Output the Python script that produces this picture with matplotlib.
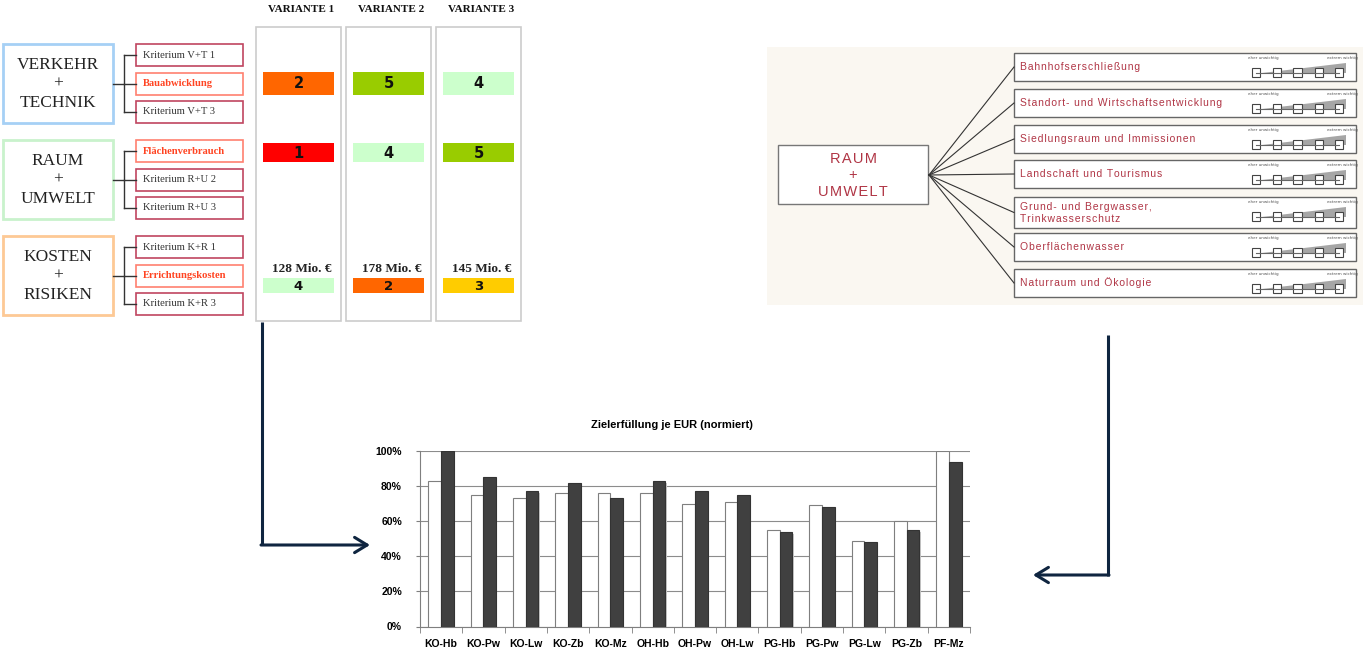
import numpy as np
import matplotlib
matplotlib.use("Agg")
from matplotlib import pyplot as plt
from matplotlib.patches import Rectangle, Polygon

# ---- data ----
groups = [["VERKEHR", "+", "TECHNIK"], ["RAUM", "+", "UMWELT"], ["KOSTEN", "+", "RISIKEN"]]
group_edges = ["#a6d0f5", "#c9f2cc", "#fdc995"]
criteria = [["Kriterium V+T 1", "Bauabwicklung", "Kriterium V+T 3"],
            ["Flächenverbrauch", "Kriterium R+U 2", "Kriterium R+U 3"],
            ["Kriterium K+R 1", "Errichtungskosten", "Kriterium K+R 3"]]
highlighted = ["Bauabwicklung", "Flächenverbrauch", "Errichtungskosten"]

variants = ["VARIANTE 1", "VARIANTE 2", "VARIANTE 3"]
scores_bau = [2, 5, 4]
scores_flaeche = [1, 4, 5]
scores_kosten = [4, 2, 3]
costs = ["128 Mio. €", "178 Mio. €", "145 Mio. €"]
score_colors = {1: "#ff0000", 2: "#ff6600", 3: "#ffcc00", 4: "#ccffcc", 5: "#99cc00"}

ru_title = ["RAUM", "+", "UMWELT"]
ru_criteria = ["Bahnhofserschließung", "Standort- und Wirtschaftsentwicklung",
               "Siedlungsraum und Immissionen", "Landschaft und Tourismus",
               "Grund- und Bergwasser,\nTrinkwasserschutz", "Oberflächenwasser",
               "Naturraum und Ökologie"]

categories = ["KO-Hb", "KO-Pw", "KO-Lw", "KO-Zb", "KO-Mz", "OH-Hb", "OH-Pw",
              "OH-Lw", "PG-Hb", "PG-Pw", "PG-Lw", "PG-Zb", "PF-Mz"]
series_a = [83, 75, 73, 76, 76, 76, 70, 71, 55, 69, 49, 60, 100]
series_b = [100, 85, 77, 82, 73, 83, 77, 75, 54, 68, 48, 55, 94]

serif = ["Liberation Serif", "DejaVu Serif"]
sans = ["Liberation Sans", "DejaVu Sans"]
narrow = ["Liberation Sans Narrow", "Liberation Sans", "DejaVu Sans"]
navy = "#0f2540"
ru_red = "#b03545"


def spaced(s):
    # letter-spaced text like the original graphic
    return "\n".join("\u200a".join(line) for line in s.split("\n"))


fig = plt.figure(figsize=(13.64, 6.52), dpi=100)
ax = fig.add_axes([0, 0, 1, 1])
ax.set_xlim(0, 1364)
ax.set_ylim(652, 0)
ax.axis("off")

# ---- left: criteria tree ----
group_tops = [44, 140, 236]
crit_offsets = [0, 29, 57]
for g, top in enumerate(group_tops):
    ax.add_patch(Rectangle((3, top), 110, 79, fill=False, ec=group_edges[g], lw=2))
    for k, word in enumerate(groups[g]):
        ax.text(58, top + 21 + k * 19, word, ha="center", va="center",
                fontsize=12.5, family=serif, color="#222222")
    mids = []
    for k, name in enumerate(criteria[g]):
        y0 = top + crit_offsets[k]
        hi = name in highlighted
        ax.add_patch(Rectangle((136, y0), 107, 22, fc="white",
                               ec="#ff8070" if hi else "#c04560", lw=1.2))
        ax.text(143, y0 + 11, name, ha="left", va="center", fontsize=7.6,
                family=serif, color="#ff4422" if hi else "#333333",
                fontweight="bold" if hi else "normal")
        mids.append(y0 + 11)
    ax.plot([113, 124], [mids[1], mids[1]], color="#333333", lw=1)
    ax.plot([124, 124], [mids[0], mids[2]], color="#333333", lw=1)
    for m in mids:
        ax.plot([124, 136], [m, m], color="#333333", lw=1)

# ---- variant columns ----
col_x = [256, 346, 436]
col_w = 85
for i, name in enumerate(variants):
    x0 = col_x[i]
    ax.add_patch(Rectangle((x0, 27), col_w, 294, fill=False, ec="#cccccc", lw=1.2))
    cx = x0 + col_w / 2
    ax.text(cx + 3, 10, name, ha="center", va="center", fontsize=8,
            fontweight="bold", family=serif, color="#111111")
    for val, y0, h in [(scores_bau[i], 72, 23), (scores_flaeche[i], 143, 19),
                       (scores_kosten[i], 278, 15)]:
        ax.add_patch(Rectangle((x0 + 7, y0), 71, h, fc=score_colors[val], ec="none"))
        ax.text(x0 + 42.5, y0 + h / 2 + 0.5, str(val), ha="center", va="center",
                fontsize=10.5 if h > 16 else 9.5, fontweight="bold",
                family="DejaVu Sans", color="#111111")
    ax.text(cx + 3, 269, costs[i], ha="center", va="center", fontsize=9.5,
            fontweight="bold", family=serif, color="#222222")

# ---- arrows ----
ax.plot([262, 262], [322, 545], color=navy, lw=2.2, solid_capstyle="butt")
ax.annotate("", xy=(370, 545), xytext=(261, 545),
            arrowprops=dict(arrowstyle="->,head_length=0.9,head_width=0.55",
                            color=navy, lw=2.2, shrinkA=0, shrinkB=0))
ax.plot([1108, 1108], [335, 576], color=navy, lw=2.2, solid_capstyle="butt")
ax.annotate("", xy=(1033, 575), xytext=(1109, 575),
            arrowprops=dict(arrowstyle="->,head_length=0.9,head_width=0.55",
                            color=navy, lw=2.2, shrinkA=0, shrinkB=0))

# ---- right: RAUM + UMWELT panel ----
ax.add_patch(Rectangle((767, 47), 596, 258, fc="#faf7f1", ec="none"))
ax.add_patch(Rectangle((778, 145), 150, 59, fc="white", ec="#777777", lw=1))
for k, word in enumerate(ru_title):
    ax.text(853, 159 + k * 16.5, spaced(word), ha="center", va="center",
            fontsize=10.5, color=ru_red, family=sans)

box_tops = [53, 89, 125, 160, 197, 233, 269]
box_h = [28, 28, 28, 28, 31, 28, 28]
for top, h, name in zip(box_tops, box_h, ru_criteria):
    ax.plot([929, 1014], [175, top + h / 2], color="#333333", lw=0.8)
    ax.add_patch(Rectangle((1014, top), 342, h, fc="white", ec="#666666", lw=1))
    ax.text(1020, top + h / 2, spaced(name), ha="left", va="center", fontsize=7.5,
            color=ru_red, family=sans, linespacing=1.25)
    # importance scale
    ax.text(1263, top + 5, "eher unwichtig", ha="center", va="center",
            fontsize=3, color="#555555")
    ax.text(1342, top + 5, "extrem wichtig", ha="center", va="center",
            fontsize=3, color="#555555")
    yb = top + 19.5
    ax.add_patch(Polygon([(1262, yb + 0.5), (1346, yb + 0.5), (1346, yb - 10)],
                         closed=True, fc="#a6a6a6", ec="none"))
    ax.plot([1256, 1339], [yb, yb], color="#666666", lw=0.8)
    for sx in [1256, 1277, 1297.5, 1319, 1339]:
        ax.add_patch(Rectangle((sx - 4.3, yb - 4.3), 8.6, 8.6, fc="white",
                               ec="#444444", lw=0.8))

# ---- bar chart ----
bx = fig.add_axes([420 / 1364, (652 - 626.5) / 652, (970 - 420) / 1364, (626.5 - 451) / 652])
pos = np.arange(len(categories))
bw = 0.3
# faint shadow behind the dark bars
bx.bar(pos + bw / 2 + 0.03, series_b, bw, bottom=-1.2, color="#c8c8c8", lw=0, zorder=2)
bx.bar(pos - bw / 2, series_a, bw, color="white", edgecolor="#7f7f7f", lw=0.8, zorder=3)
bx.bar(pos + bw / 2, series_b, bw, color="#404040", edgecolor="#333333", lw=0.8, zorder=3)
bx.set_xlim(-0.5, len(categories) - 0.5)
bx.set_ylim(0, 100)
bx.set_yticks(range(0, 101, 20))
bx.set_yticklabels([f"{v}%" for v in range(0, 101, 20)])
bx.yaxis.grid(True, color="#8c8c8c", lw=0.8, zorder=0)
bx.set_xticks(pos)
bx.set_xticklabels(categories)
bx.set_xticks(np.arange(-0.5, len(categories)), minor=True)
bx.tick_params(axis="x", which="major", length=0, pad=9)
bx.tick_params(axis="x", which="minor", length=4, color="#7f7f7f")
bx.tick_params(axis="y", length=3, color="#7f7f7f", pad=10)
for lab in bx.get_xticklabels() + bx.get_yticklabels():
    lab.set_fontfamily(narrow)
    lab.set_fontweight("bold")
    lab.set_fontsize(7.5)
for s in ["top", "right"]:
    bx.spines[s].set_visible(False)
bx.spines["left"].set_color("#7f7f7f")
bx.spines["bottom"].set_color("#7f7f7f")
ax.text(672, 425, "Zielerfüllung je EUR (normiert)", ha="center", va="center",
        fontsize=8, fontweight="bold", family=narrow)

fig.savefig("out.png", dpi=100)
